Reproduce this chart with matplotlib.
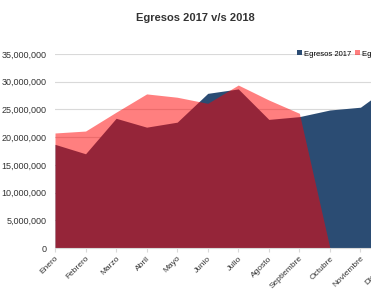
import matplotlib.pyplot as plt
import numpy as np

plt.rcParams['font.family'] = ['Liberation Sans Narrow', 'Liberation Sans', 'DejaVu Sans']

meses = ['Enero', 'Febrero', 'Marzo', 'Abril', 'Mayo', 'Junio', 'Julio',
         'Agosto', 'Septiembre', 'Octubre', 'Noviembre', 'Diciembre']
egresos_2017 = [18.7, 17.0, 23.4, 21.8, 22.7, 27.9, 28.7, 23.2, 23.7, 24.9, 25.4, 29.4]
egresos_2018 = [20.75, 21.1, 24.5, 27.8, 27.2, 26.1, 29.4, 26.7, 24.3, 0, 0, 0]

x = np.arange(len(meses))
y17 = np.array(egresos_2017) * 1e6
y18 = np.array(egresos_2018) * 1e6

fig = plt.figure(figsize=(3.71, 2.93), dpi=100)
W, H = 371, 293
# plot area extends past the right edge (chart is cropped)
ax = fig.add_axes([55 / W, (H - 248) / H, 336 / W, 194 / H])

ax.fill_between(x, 0, y17, color='#2b4c73', lw=0, label='Egresos 2017')
ax.fill_between(x, 0, y18, color='#ff0000', alpha=0.5, lw=0, label='Egresos 2018')

ax.set_xlim(0, 11)
ax.set_ylim(0, 35e6)
ax.set_yticks(np.arange(0, 35e6 + 1, 5e6))
ax.set_yticklabels(['{:,.0f}'.format(v) for v in np.arange(0, 35e6 + 1, 5e6)])
ax.yaxis.grid(True, color='#d9d9d9', lw=0.8)
ax.set_axisbelow(True)
for s in ['top', 'right', 'left']:
    ax.spines[s].set_visible(False)
ax.spines['bottom'].set_color('#d9d9d9')
ax.tick_params(axis='y', length=0, labelsize=6.5, colors='#333333', pad=6)
ax.set_xticks(x)
ax.set_xticklabels(meses, rotation=45, ha='right', rotation_mode='anchor')
ax.tick_params(axis='x', length=3, color='#d9d9d9', labelsize=6, colors='#333333', pad=2)

fig.text(195 / W, 1 - 18 / H, 'Egresos 2017 v/s 2018', ha='center', va='center',
         fontsize=8, fontweight='bold', color='#333333')

fig.legend(loc='center left', bbox_to_anchor=(297 / W, 1 - 54 / H), ncol=2, frameon=False,
           fontsize=5.5, handlelength=0.6, handleheight=0.6, handletextpad=0.3,
           columnspacing=0.5, borderaxespad=0, borderpad=0)

fig.savefig('out.png', dpi=100)
